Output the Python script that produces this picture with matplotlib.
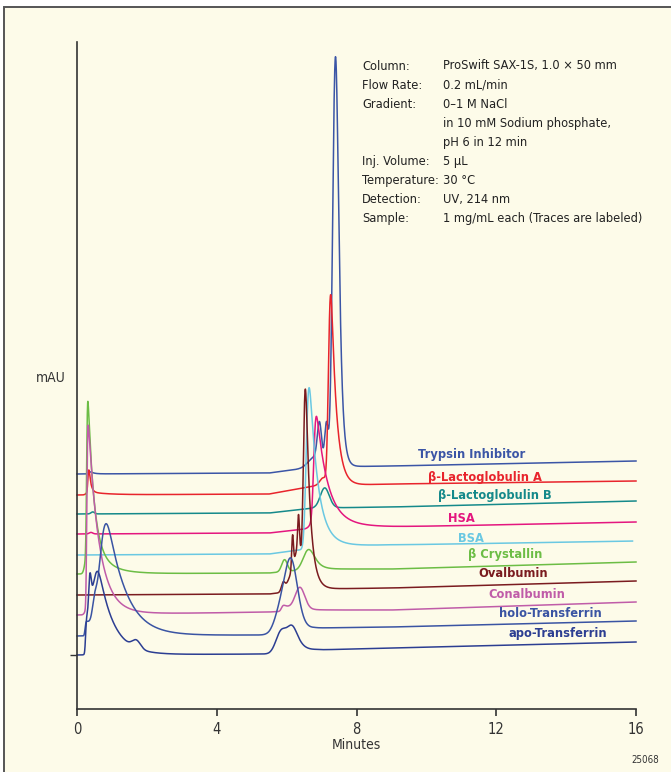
import matplotlib
matplotlib.use("Agg")
import matplotlib.pyplot as plt
from matplotlib import font_manager
from matplotlib.patches import Rectangle
import numpy as np

# Traces, top to bottom (stacked with an offset in mAU)
trace_names = [
    "Trypsin Inhibitor",
    "β-Lactoglobulin A",
    "β-Lactoglobulin B",
    "HSA",
    "BSA",
    "β Crystallin",
    "Ovalbumin",
    "Conalbumin",
    "holo-Transferrin",
    "apo-Transferrin",
]
trace_colors = [
    "#3b55a6", "#e8242c", "#15898a", "#e4167f", "#6ac8e2",
    "#6cbd45", "#7a1b1f", "#c05ca8", "#3a54a3", "#2c3e92",
]

# baseline (mAU) read at these times for every trace
base_times = [0.0, 5.5, 6.8, 9.0, 16.0]
base_levels = [
    [235, 236, 242, 243, 248],
    [214, 215, 223, 225, 228],
    [195, 196, 201, 202, 208],
    [175, 176, 181, 182, 187],
    [154, 155, 161, 164, 168],
    [135, 136, 140, 140, 147],
    [114, 115, 120, 121, 128],
    [94, 97, 99, 99, 107],
    [73, 74, 81, 82, 88],
    [54, 55, 59, 61, 67],
]
trace_end = [16, 16, 16, 16, 15.9, 16, 16, 16, 16, 16]

# peaks: (retention min, height mAU, sigma min, tailing min)
peaks_trypsin = [(0.38, 2, 0.04, 0.1), (6.8, 10, 0.18, 0), (6.94, 38, 0.06, 0),
                 (7.14, 42, 0.05, 0), (7.40, 410, 0.07, 0.08)]
peaks_lacto_a = [(0.34, 22, 0.02, 0.05), (0.36, 3, 0.05, 0.5), (7.05, 8, 0.1, 0),
                 (7.26, 190, 0.045, 0.15)]
peaks_lacto_b = [(0.45, 2, 0.05, 0), (7.09, 20, 0.12, 0.05)]
peaks_hsa = [(0.40, 1.5, 0.05, 0), (6.85, 100, 0.045, 0.3), (6.9, 12, 0.1, 0.7)]
peaks_bsa = [(6.64, 155, 0.055, 0.22), (6.8, 10, 0.1, 0.6)]
peaks_crystallin = [(0.31, 148, 0.02, 0.17), (0.33, 25, 0.05, 0.5),
                    (5.94, 12, 0.08, 0), (6.63, 20, 0.13, 0.15)]
peaks_ovalbumin = [(5.9, 8, 0.05, 0), (6.1, 10, 0.12, 0), (6.35, 42, 0.13, 0),
                   (6.17, 32, 0.025, 0), (6.34, 33, 0.025, 0), (6.54, 186, 0.04, 0.13)]
peaks_conalbumin = [(0.32, 180, 0.02, 0.3), (0.35, 10, 0.05, 0.7),
                    (5.92, 6, 0.04, 0.3), (6.38, 22, 0.13, 0.05)]
peaks_holo = [(0.28, 14, 0.02, 0.8), (0.5, 15, 0.06, 0), (0.83, 100, 0.13, 0.45),
              (1.2, 8, 0.3, 0.6), (5.85, 25, 0.18, 0), (6.14, 66, 0.16, 0.1)]
peaks_apo = [(0.29, 35, 0.02, 0.5), (0.37, 36, 0.03, 0.03), (0.6, 64, 0.1, 0.4),
             (1.7, 8, 0.12, 0), (5.85, 22, 0.15, 0), (6.17, 24, 0.12, 0.15)]

trace_peaks = [peaks_trypsin, peaks_lacto_a, peaks_lacto_b, peaks_hsa, peaks_bsa,
               peaks_crystallin, peaks_ovalbumin, peaks_conalbumin, peaks_holo, peaks_apo]

x_ticks = [0, 4, 8, 12, 16]

info_keys = ["Column:", "Flow Rate:", "Gradient:", "", "", "Inj. Volume:",
             "Temperature:", "Detection:", "Sample:"]
info_values = ["ProSwift SAX-1S, 1.0 × 50 mm", "0.2 mL/min", "0–1 M NaCl",
               "in 10 mM Sodium phosphate,", "pH 6 in 12 min", "5 µL", "30 °C",
               "UV, 214 nm", "1 mg/mL each (Traces are labeled)"]

DT = 0.0025
T = np.arange(0, 16 + DT / 2, DT)


def peak_shape(t0, h, s, tau):
    """Gaussian peak, optionally with an exponential tail, apex at t0."""
    g = np.exp(-0.5 * ((T - t0) / s) ** 2)
    if tau > 0:
        n = int(10 * tau / DT) + 1
        k = np.exp(-np.arange(n) * DT / tau)
        g = np.convolve(g, k)[:len(T)]
        shift = T[np.argmax(g)] - t0
        g = np.interp(T + shift, T, g)
    return h * g / g.max()


def build_trace(levels, peaks):
    y = np.interp(T, base_times, levels)
    for p in peaks:
        y = y + peak_shape(*p)
    return y


# pick a narrow sans face if one is around
installed = {f.name for f in font_manager.fontManager.ttflist}
if "Liberation Sans Narrow" in installed:
    FONT = dict(family="Liberation Sans Narrow")
else:
    FONT = dict(family="DejaVu Sans", stretch="condensed")

W, H = 671, 772
fig = plt.figure(figsize=(W / 100, H / 100), dpi=100)
fig.patch.set_facecolor("white")
bg = "#fdfbe9"
fig.patches.append(Rectangle((4 / W, -0.05), 1.1, 1 - 7 / H + 0.05, transform=fig.transFigure,
                             facecolor=bg, edgecolor="#555555", linewidth=1.4, zorder=-10))

ax = fig.add_axes([77 / W, (H - 709) / H, (636 - 77) / W, (709 - 42) / H])
ax.set_facecolor("none")
ax.set_xlim(0, 16)
ax.set_ylim(0, 667)
for side in ["top", "right"]:
    ax.spines[side].set_visible(False)
for side in ["left", "bottom"]:
    ax.spines[side].set_color("#333333")
    ax.spines[side].set_linewidth(1.2)

ax.set_xticks(x_ticks)
ax.set_xticklabels([str(v) for v in x_ticks], fontsize=10.5, color="#333333", **FONT)
ax.tick_params(axis="x", direction="out", length=5, width=1.2, color="#333333", pad=4)
ax.set_yticks([base_levels[-1][0]])
ax.set_yticklabels([""])
ax.tick_params(axis="y", direction="out", length=5, width=1.0, color="#333333")
ax.set_xlabel("Minutes", fontsize=10, color="#333333", labelpad=1, **FONT)

label_lift = [10, 6, 10, 7, 5, 11, 11, 11, 10, 11]
for i, name in enumerate(trace_names):
    y = build_trace(base_levels[i], trace_peaks[i])
    m = T <= trace_end[i]
    ax.plot(T[m], y[m], color=trace_colors[i], lw=1.1, solid_joinstyle="round", clip_on=False)
    lx = 9.75 + 0.29 * i
    ly = np.interp(lx + 1.0, base_times, base_levels[i]) + label_lift[i]
    ax.text(lx, ly, name, color=trace_colors[i], fontweight="bold",
            fontsize=9.2, va="center", ha="left", **FONT)

fig.text(51 / W, 1 - 378 / H, "mAU", fontsize=10, color="#333333",
         ha="center", va="center", **FONT)
for j, (k, v) in enumerate(zip(info_keys, info_values)):
    yy = 1 - (66 + 19.1 * j) / H
    fig.text(362 / W, yy, k, fontsize=9.2, color="#222222", va="center", **FONT)
    fig.text(443 / W, yy, v, fontsize=9.2, color="#222222", va="center", **FONT)
fig.text(645 / W, 1 - 760 / H, "25068", fontsize=7, color="#333333",
         ha="center", va="center", **FONT)

fig.savefig("out.png", dpi=100, facecolor=fig.get_facecolor())
